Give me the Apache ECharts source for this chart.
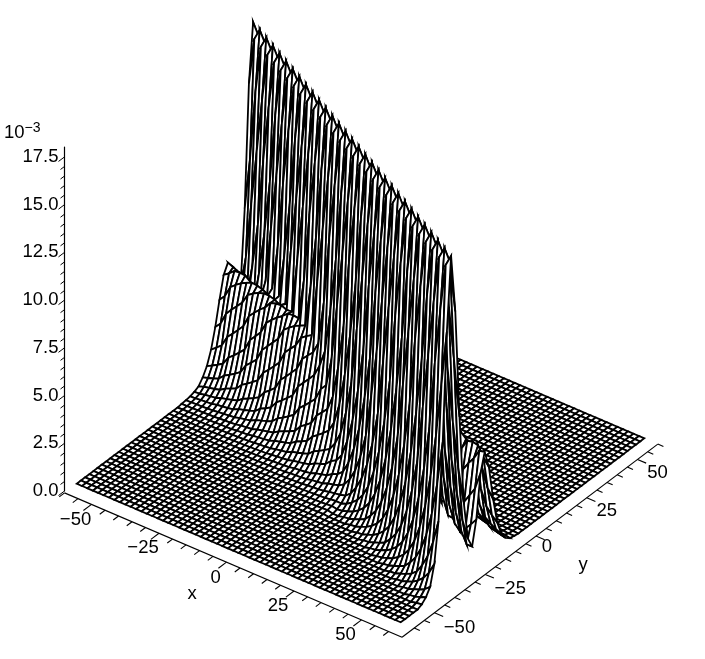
<!DOCTYPE html>
<html>
<head>
<meta charset="utf-8">
<style>
  html, body { margin: 0; padding: 0; background: #fff; }
  #chart { width: 705px; height: 659px; }
</style>
<script src="https://cdn.jsdelivr.net/npm/echarts@6/dist/echarts.min.js"></script>
</head>
<body>
<div id="chart"></div>
<script>
// mesh of the surface over -60..60
const meshCountX = 61;
const meshCountY = 59;
const meshStepX = 120 / 60;
const meshStepY = 120 / 58;
const meshStart = -60;

// where the crest of each ridge sits (y) for every mesh x
const bigRidgeY = [26.9, 25.9, 24.8, 23.8, 22.8, 21.7, 20.7, 19.7, 18.6, 17.6, 16.6, 15.5, 14.5, 13.5, 12.4, 11.4,
  10.3, 9.3, 8.3, 7.2, 6.2, 5.2, 4.1, 3.1, 2.1, 1.0, 0, -1.0, -2.1, -3.1, -4.1, -5.2, -6.2, -7.2, -8.3, -9.3, -10.3,
  -11.4, -12.4, -13.5, -14.5, -15.5, -16.6, -17.6, -18.6, -19.7, -20.7, -21.7, -22.8, -23.8, -24.8, -25.9, -26.9,
  -27.9, -29.0, -30.0, -31.0, -32.1, -33.1, -34.1, -35.1];
const smallRidgeY = [14.3, 13.7, 13.0, 12.4, 11.8, 11.1, 10.5, 9.9, 9.2, 8.6, 8.0, 7.3, 6.7, 6.0, 5.4, 4.8, 4.1, 3.5,
  2.9, 2.2, 1.6, 1.0, 0.3, -0.3, -0.9, -1.6, -2.2, -2.8, -3.5, -4.1, -4.8, -5.4, -6.0, -6.7, -7.3, -2.6, -3.3, -3.9,
  -4.5, -5.2, -5.8, -6.4, -7.1, -7.7, -8.3, -9.0, -9.6, -10.2, -10.9, -11.5, -12.1, -12.8, -13.4, -14.0, -14.7,
  -15.3, -15.9, -16.6, -17.2, -17.9, -18.5];
const smallRidgeBehindFrom = 35; // mesh x index where the small ridge comes out behind the big one

// crest heights, in units of 10^-3
const bigRidgeHeight = 17.2;
const smallRidgeHeight = 5.6;

// cross sections of the ridges, share of crest height by distance from the crest
const bigProfileStep = 0.25;
const bigProfile = [1, 0.999, 0.993, 0.982, 0.965, 0.94, 0.908, 0.866, 0.821, 0.78, 0.739, 0.698, 0.655, 0.612, 0.57,
  0.529, 0.49, 0.451, 0.416, 0.382, 0.35, 0.32, 0.294, 0.267, 0.243, 0.221, 0.202, 0.183, 0.165, 0.15, 0.136, 0.123,
  0.111, 0.1, 0.09, 0.082, 0.074, 0.066, 0.06, 0.054, 0.049, 0.044, 0.04, 0.036, 0.032, 0.029, 0.026, 0.024, 0.021,
  0.019, 0.018, 0.016, 0.014, 0.013, 0.012, 0.01, 0.01, 0.008, 0.006, 0.006, 0.005, 0.005, 0.004, 0.004, 0.003];
const smallProfileStep = 0.5;
const smallProfile = [1, 0.994, 0.978, 0.951, 0.915, 0.872, 0.822, 0.768, 0.712, 0.654, 0.597, 0.54, 0.487, 0.436, 0.389,
  0.345, 0.305, 0.269, 0.236, 0.207, 0.181, 0.158, 0.137, 0.12, 0.104, 0.09, 0.078, 0.067, 0.058, 0.05, 0.044, 0.038,
  0.032, 0.028, 0.024, 0.021, 0.018, 0.015, 0.013, 0.012, 0.01, 0.009, 0.007, 0.006, 0.005, 0.005, 0.004, 0.003, 0.003];
const smallBehindProfile = [1, 0.988, 0.953, 0.899, 0.83, 0.75, 0.666, 0.582, 0.5, 0.426, 0.36, 0.3, 0.25, 0.205, 0.168,
  0.137, 0.112, 0.091, 0.074, 0.06, 0.048, 0.039, 0.032, 0.025, 0.02, 0.016, 0.013, 0.01, 0.008, 0.007, 0.005, 0.004, 0.003];

// tick labels
const xyTicks = [-50, -25, 0, 25, 50];
const zTicks = [0, 2.5, 5, 7.5, 10, 12.5, 15, 17.5];

// view: how one unit along x, y, z moves on the page
const viewOrigin = [360.5, 461];
const viewX = [2.7, 1.155];
const viewY = [2.03, -1.533];
const viewZ = 19.09;

function project(x, y, z) {
  return [
    viewOrigin[0] + x * viewX[0] + y * viewY[0],
    viewOrigin[1] + x * viewX[1] + y * viewY[1] - z * viewZ
  ];
}

function fromProfile(profile, step, dist) {
  const k = Math.round(dist / step);
  return k < profile.length ? profile[k] : 0;
}

// the taller ridge wins where the two cross
function meshValue(i, j) {
  const y = meshStart + j * meshStepY;
  const small = i < smallRidgeBehindFrom ? smallProfile : smallBehindProfile;
  return Math.max(
    bigRidgeHeight * fromProfile(bigProfile, bigProfileStep, Math.abs(y - bigRidgeY[i])),
    smallRidgeHeight * fromProfile(small, smallProfileStep, Math.abs(y - smallRidgeY[i]))
  );
}

function meshPoint(api, i, j) {
  const x = meshStart + i * meshStepX;
  const y = meshStart + j * meshStepY;
  return api.coord(project(x, y, meshValue(i, j)));
}

// back to front, so nearer cells paint over farther ones
const cells = [];
for (let i = 0; i < meshCountX - 1; i++) {
  for (let j = meshCountY - 2; j >= 0; j--) {
    cells.push([i, j]);
  }
}

const axisY = -66; // the x axis runs along here
const axisX = 65; // the y axis runs along here
const labelFont = '18.5px "Liberation Sans"';

// oblique axes: line, then ticks every 5
const axisSegments = [];
axisSegments.push([...project(-60, axisY, 0), ...project(axisX, axisY, 0)]);
axisSegments.push([...project(axisX, axisY, 0), ...project(axisX, 60, 0)]);
for (let v = -60; v <= 60; v += 5) {
  const len = v % 25 === 0 ? 4 : 2.6;
  axisSegments.push([...project(v, axisY, 0), ...project(v, axisY - len, 0)]);
  axisSegments.push([...project(axisX, v, 0), ...project(axisX + len * 0.8, v, 0)]);
}

const xyLabels = [];
xyTicks.forEach(function (t) {
  const text = String(t).replace('-', '\u2212');
  xyLabels.push([...project(t, axisY, 0), text, t === 0 ? -11 : -16, t === 0 ? 16 : 15]);
  xyLabels.push([...project(axisX, t, 0), text, t === 0 ? 11 : t < 0 ? 25 : 20, t === 0 ? 11 : t < 0 ? 15 : 13]);
});
xyLabels.push([...project(-10, axisY, 0), 'x', -7.5, 43]);
xyLabels.push([...project(axisX, 10, 0), 'y', 26.7, 44]);

// z ticks, every 0.5
const zMinor = [];
for (let k = 0; k <= 35; k++) {
  zMinor.push([0, k * 0.5, k % 5 === 0 ? 1 : 0]);
}

const chart = echarts.init(document.getElementById('chart'));
chart.setOption({
  animation: false,
  backgroundColor: '#fff',
  grid: [
    { left: 0, top: 0, width: 705, height: 659 },
    { left: 64.5, top: 147, width: 10, height: 344 }
  ],
  xAxis: [
    { type: 'value', gridIndex: 0, min: 0, max: 705, show: false },
    { type: 'value', gridIndex: 1, min: 0, max: 1, show: false }
  ],
  yAxis: [
    { type: 'value', gridIndex: 0, min: 0, max: 659, inverse: true, show: false },
    {
      type: 'value',
      gridIndex: 1,
      min: 0,
      max: 18.02,
      interval: 2.5,
      name: '{a|10}{b|\u22123}',
      nameLocation: 'end',
      nameGap: 3,
      nameTextStyle: {
        align: 'right',
        padding: [0, 24, 0, 0],
        rich: {
          a: { fontFamily: 'Liberation Sans', fontSize: 18.5, color: '#000' },
          b: { fontFamily: 'Liberation Sans', fontSize: 14, color: '#000', padding: [0, 0, 9, 0] }
        }
      },
      axisLine: { show: true, onZero: false, lineStyle: { color: '#000', width: 1.2 } },
      axisTick: { show: false },
      splitLine: { show: false },
      axisLabel: {
        showMaxLabel: false,
        margin: 6,
        fontFamily: 'Liberation Sans',
        fontSize: 18.5,
        color: '#000',
        formatter: function (v) {
          return zTicks.indexOf(v) >= 0 ? v.toFixed(1) : '';
        }
      }
    }
  ],
  series: [
    {
      type: 'custom',
      coordinateSystem: 'cartesian2d',
      xAxisIndex: 0,
      yAxisIndex: 0,
      silent: true,
      clip: false,
      progressive: 0,
      data: cells,
      renderItem: function (params, api) {
        const i = api.value(0);
        const j = api.value(1);
        return {
          type: 'polygon',
          shape: {
            points: [meshPoint(api, i, j), meshPoint(api, i + 1, j), meshPoint(api, i + 1, j + 1), meshPoint(api, i, j + 1)]
          },
          style: { fill: '#fff', stroke: '#000', lineWidth: 1.8 }
        };
      }
    },
    {
      type: 'custom',
      coordinateSystem: 'cartesian2d',
      xAxisIndex: 0,
      yAxisIndex: 0,
      silent: true,
      clip: false,
      progressive: 0,
      data: axisSegments,
      renderItem: function (params, api) {
        const a = api.coord([api.value(0), api.value(1)]);
        const b = api.coord([api.value(2), api.value(3)]);
        return {
          type: 'line',
          shape: { x1: a[0], y1: a[1], x2: b[0], y2: b[1] },
          style: { stroke: '#000', lineWidth: 1.1 }
        };
      }
    },
    {
      type: 'custom',
      coordinateSystem: 'cartesian2d',
      xAxisIndex: 1,
      yAxisIndex: 1,
      silent: true,
      clip: false,
      progressive: 0,
      data: zMinor,
      renderItem: function (params, api) {
        const a = api.coord([api.value(0), api.value(1)]);
        const big = api.value(2) === 1;
        return {
          type: 'line',
          shape: { x1: a[0], y1: a[1], x2: a[0] - (big ? 6 : 4), y2: a[1] + (big ? 4.5 : 3) },
          style: { stroke: '#000', lineWidth: 1 }
        };
      }
    },
    {
      type: 'custom',
      coordinateSystem: 'cartesian2d',
      xAxisIndex: 0,
      yAxisIndex: 0,
      silent: true,
      clip: false,
      progressive: 0,
      data: xyLabels,
      dimensions: ['u', 'v', { name: 'text', type: 'ordinal' }, 'dx', 'dy'],
      renderItem: function (params, api) {
        const a = api.coord([api.value(0), api.value(1)]);
        return {
          type: 'text',
          style: {
            text: xyLabels[params.dataIndex][2],
            x: a[0] + api.value(3),
            y: a[1] + api.value(4),
            font: labelFont,
            fill: '#000',
            align: 'center',
            verticalAlign: 'middle'
          }
        };
      }
    }
  ]
});
</script>
</body>
</html>
